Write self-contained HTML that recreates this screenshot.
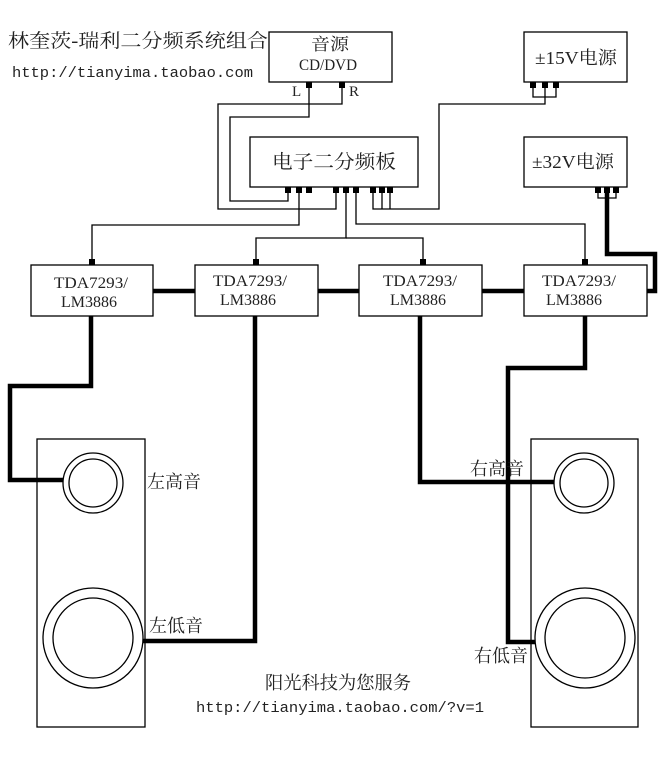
<!DOCTYPE html>
<html><head><meta charset="utf-8"><style>
html,body{margin:0;padding:0;background:#fff;}
svg text{font-family:"Liberation Serif","Noto Serif CJK SC",serif;fill:#222;}
.m{font-family:"Liberation Mono","Noto Sans CJK SC",monospace;}
</style></head><body>
<svg width="670" height="756" viewBox="0 0 670 756" xmlns="http://www.w3.org/2000/svg">
<rect width="670" height="756" fill="#fff"/>
<text x="8" y="47" font-size="19" textLength="260" lengthAdjust="spacingAndGlyphs">林奎茨-瑞利二分频系统组合</text>
<text x="12" y="77" font-size="15" class="m" textLength="241" lengthAdjust="spacingAndGlyphs">http://tianyima.taobao.com</text>

<g fill="none" stroke="#000" stroke-width="1.3">
<rect x="269" y="32" width="123" height="50"/>
<rect x="524" y="32" width="103" height="50"/>
<rect x="250" y="137" width="168" height="50"/>
<rect x="524" y="137" width="103" height="50"/>
<rect x="31" y="265" width="122" height="51"/>
<rect x="195" y="265" width="123" height="51"/>
<rect x="359" y="265" width="123" height="51"/>
<rect x="524" y="265" width="123" height="51"/>
<polyline points="309,88 309,117 230,117 230,201 288,201 288,193"/>
<polyline points="342,88 342,104 218,104 218,209 336,209 336,193"/>
<polyline points="533,88 533,97 556,97 556,88"/>
<polyline points="545,88 545,104 439,104 439,209 373,209 373,193"/>
<polyline points="382,193 382,209"/><polyline points="390,193 390,209"/>
<polyline points="299,193 299,225 92,225 92,260"/>
<polyline points="346,193 346,238 256,238 256,260"/>
<polyline points="346,238 423,238 423,260"/>
<polyline points="356,193 356,224 585,224 585,260"/>
<polyline points="598,193 598,198 616,198 616,193"/>
<rect x="37" y="439" width="108" height="288"/>
<rect x="531" y="439" width="107" height="288"/>
<circle cx="93" cy="483" r="30"/><circle cx="93" cy="483" r="24"/>
<circle cx="93" cy="638" r="50"/><circle cx="93" cy="638" r="40"/>
<circle cx="584" cy="483" r="30"/><circle cx="584" cy="483" r="24"/>
<circle cx="585" cy="638" r="50"/><circle cx="585" cy="638" r="40"/>
</g>
<g fill="#000">
<rect x="306" y="82" width="6" height="6"/><rect x="339" y="82" width="6" height="6"/>
<rect x="530" y="82" width="6" height="6"/><rect x="542" y="82" width="6" height="6"/><rect x="553" y="82" width="6" height="6"/>
<rect x="285" y="187" width="6" height="6"/><rect x="296" y="187" width="6" height="6"/><rect x="306" y="187" width="6" height="6"/>
<rect x="333" y="187" width="6" height="6"/><rect x="343" y="187" width="6" height="6"/><rect x="353" y="187" width="6" height="6"/>
<rect x="370" y="187" width="6" height="6"/><rect x="379" y="187" width="6" height="6"/><rect x="387" y="187" width="6" height="6"/>
<rect x="595" y="187" width="6" height="6"/><rect x="604" y="187" width="6" height="6"/><rect x="613" y="187" width="6" height="6"/>
<rect x="89" y="259" width="6" height="6"/><rect x="253" y="259" width="6" height="6"/><rect x="420" y="259" width="6" height="6"/><rect x="582" y="259" width="6" height="6"/>
</g>
<g fill="none" stroke="#000" stroke-width="4.5">
<line x1="153" y1="291" x2="195" y2="291"/>
<line x1="318" y1="291" x2="359" y2="291"/>
<line x1="482" y1="291" x2="524" y2="291"/>
<polyline points="607,193 607,254 655,254 655,291 647,291"/>
<polyline points="91,316 91,386 10,386 10,480 63,480"/>
<polyline points="255,316 255,641 143,641"/>
<polyline points="420,316 420,482 554,482"/>
<polyline points="585,316 585,368 508,368 508,642 535,642"/>
</g>
<text x="311" y="50" font-size="17" textLength="38" lengthAdjust="spacingAndGlyphs">音源</text>
<text x="299" y="70" font-size="16" textLength="58" lengthAdjust="spacingAndGlyphs">CD/DVD</text>
<text x="292" y="96" font-size="15">L</text>
<text x="349" y="96" font-size="15">R</text>
<text x="535" y="64" font-size="18" textLength="82" lengthAdjust="spacingAndGlyphs">±15V电源</text>
<text x="272" y="168" font-size="19" textLength="124" lengthAdjust="spacingAndGlyphs">电子二分频板</text>
<text x="532" y="168" font-size="18" textLength="82" lengthAdjust="spacingAndGlyphs">±32V电源</text>
<g font-size="16">
<text x="54" y="288" textLength="74" lengthAdjust="spacingAndGlyphs">TDA7293/</text><text x="61" y="307" textLength="56" lengthAdjust="spacingAndGlyphs">LM3886</text>
<text x="213" y="286" textLength="74" lengthAdjust="spacingAndGlyphs">TDA7293/</text><text x="220" y="305" textLength="56" lengthAdjust="spacingAndGlyphs">LM3886</text>
<text x="383" y="286" textLength="74" lengthAdjust="spacingAndGlyphs">TDA7293/</text><text x="390" y="305" textLength="56" lengthAdjust="spacingAndGlyphs">LM3886</text>
<text x="542" y="286" textLength="74" lengthAdjust="spacingAndGlyphs">TDA7293/</text><text x="546" y="305" textLength="56" lengthAdjust="spacingAndGlyphs">LM3886</text>
</g>
<g font-size="18">
<text x="147" y="488">左高音</text>
<text x="149" y="632">左低音</text>
<text x="470" y="475">右高音</text>
<text x="474" y="662">右低音</text>
<text x="265" y="689" textLength="146" lengthAdjust="spacingAndGlyphs">阳光科技为您服务</text>
</g>
<text x="196" y="712" font-size="15" class="m" textLength="288" lengthAdjust="spacingAndGlyphs">http://tianyima.taobao.com/?v=1</text>
</svg>
</body></html>
